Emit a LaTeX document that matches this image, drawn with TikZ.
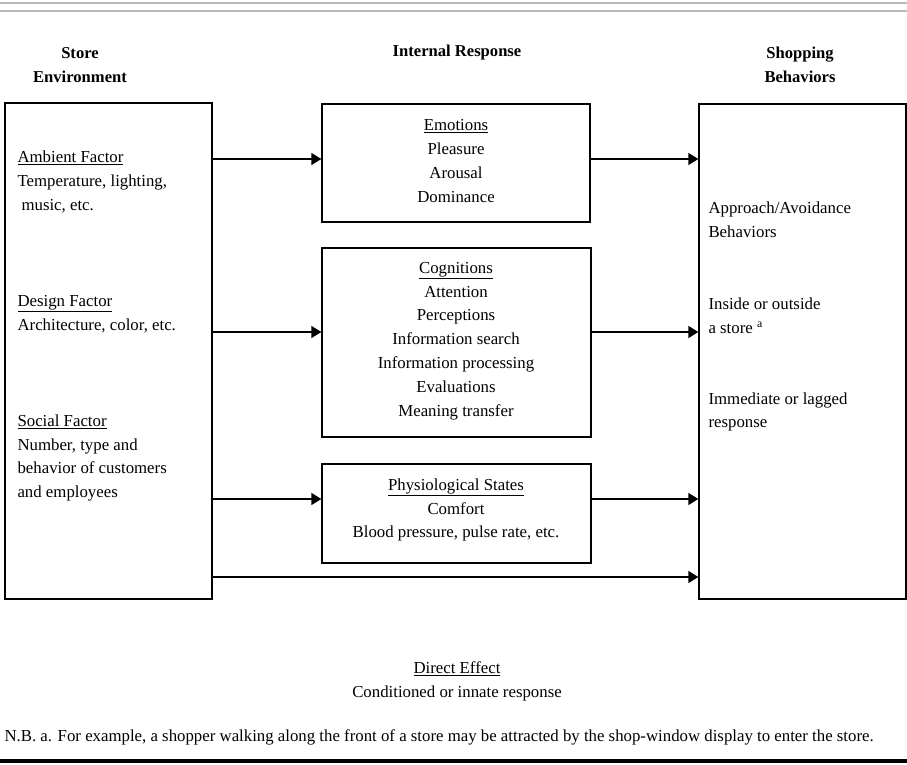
\documentclass[tikz,border=0pt]{standalone}
\usepackage{fontspec}
\setmainfont{Liberation Serif}
\usetikzlibrary{arrows.meta,positioning}

\begin{document}
\begin{tikzpicture}[x=1pt,y=-1pt,
  box/.style={draw,line width=1.3pt,inner sep=0pt},
  txt/.style={font=\fontsize{16.8}{23.8}\selectfont,align=center},
  side/.style={font=\fontsize{16.8}{23.8}\selectfont,align=left,anchor=west},
  head/.style={font=\fontsize{16.6}{24}\selectfont\bfseries,align=center},
  arr/.style={-{Triangle[length=10pt,width=12pt]},line width=1.3pt}]
  \useasboundingbox (0,0) rectangle (907,765);
  % rules
  \draw[gray!55,line width=1.6pt] (0,3) -- (907,3);
  \draw[gray!55,line width=1.6pt] (0,11) -- (907,11);
  \draw[line width=4pt] (0,761) -- (907,761);
  % headings
  \node[head] (hse) at (80,65) {Store\\Environment};
  \node[head] (hir) at (457,53) {Internal Response};
  \node[head] (hsb) at (800,65) {Shopping\\Behaviors};
  % store environment
  \node[box,minimum width=207pt,minimum height=496pt] (env) at (108.5,351) {};
  \node[side] (amb) at (14,182) {\underline{Ambient Factor}\\Temperature, lighting,\\\hspace{4pt}music, etc.};
  \node[side] (des) at (14,314) {\underline{Design Factor}\\Architecture, color, etc.};
  \node[side] (soc) at (14,458) {\underline{Social Factor}\\Number, type and\\behavior of customers\\and employees};
  % internal response
  \node[box,minimum width=268pt,minimum height=118pt] (emo) at (456,163) {};
  \node[box,minimum width=269pt,minimum height=189pt] (cog) at (456.5,342.5) {};
  \node[box,minimum width=269pt,minimum height=99pt] (phy) at (456.5,513.5) {};
  \node[txt] (emot) at (456,161) {\underline{Emotions}\\Pleasure\\Arousal\\Dominance};
  \node[txt] (cogt) at (456,341) {\underline{Cognitions}\\Attention\\Perceptions\\Information search\\Information processing\\Evaluations\\Meaning transfer};
  \node[txt] (phyt) at (456,510) {\underline{Physiological States}\\Comfort\\Blood pressure, pulse rate, etc.};
  % shopping behaviors
  \node[box,minimum width=207pt,minimum height=495pt] (beh) at (802.5,351.5) {};
  \node[side] (app) at (705,220) {Approach/Avoidance\\Behaviors};
  \node[side] (ins) at (705,316) {Inside or outside\\a store \textsuperscript{a}};
  \node[side] (imm) at (705,412) {Immediate or lagged\\response};
  % arrows
  \draw[arr] ([yshift=4pt]emo.west -| env.east) -- ([yshift=4pt]emo.west);
  \draw[arr] ([yshift=10.5pt]cog.west -| env.east) -- ([yshift=10.5pt]cog.west);
  \draw[arr] ([yshift=14.5pt]phy.west -| env.east) -- ([yshift=14.5pt]phy.west);
  \draw[arr] ([yshift=4pt]emo.east) -- ([yshift=4pt]emo.east -| beh.west);
  \draw[arr] ([yshift=10.5pt]cog.east) -- ([yshift=10.5pt]cog.east -| beh.west);
  \draw[arr] ([yshift=14.5pt]phy.east) -- ([yshift=14.5pt]phy.east -| beh.west);
  \coordinate (dd) at (0,577);
  \draw[arr] (env.east |- dd) -- (beh.west |- dd);
  % direct effect and note
  \node[txt] (dir) at (457,681) {\underline{Direct Effect}\\Conditioned or innate response};
  \node[side] (nb) at (1,737) {N.B. a. For example, a shopper walking along the front of a store may be attracted by the shop-window display to enter the store.};
\end{tikzpicture}
\end{document}
